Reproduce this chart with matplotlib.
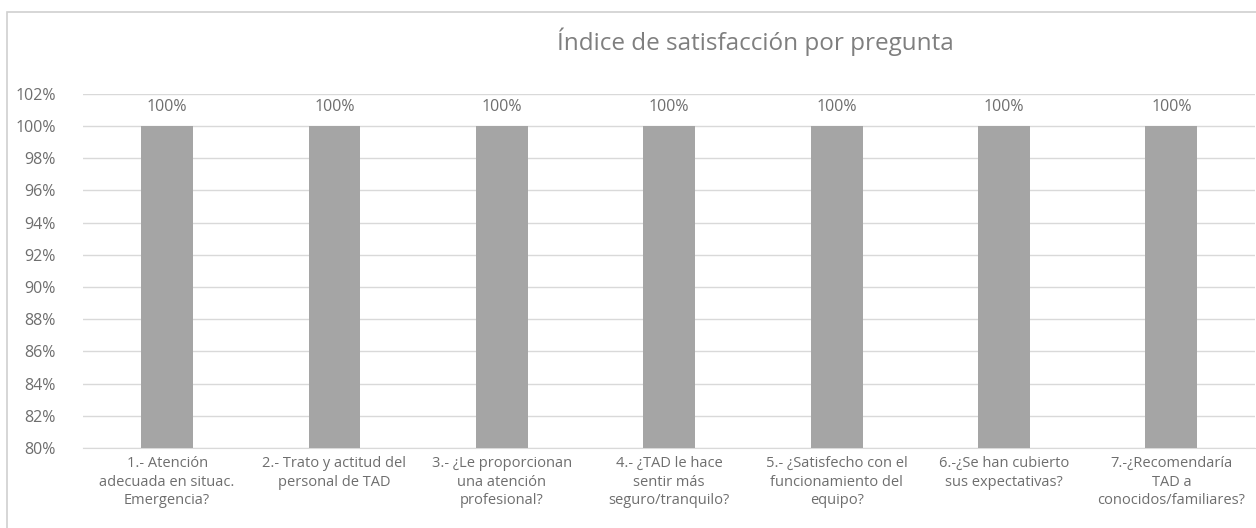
import matplotlib.pyplot as plt
import numpy as np
from matplotlib.patches import Rectangle
from matplotlib.ticker import FuncFormatter, MultipleLocator

plt.rcParams["font.family"] = ["Open Sans", "DejaVu Sans"]

# Datos
categories = [
    "1.- Atención\nadecuada en situac.\nEmergencia?",
    "2.- Trato y actitud del\npersonal de TAD",
    "3.- ¿Le proporcionan\nuna atención\nprofesional?",
    "4.- ¿TAD le hace\nsentir más\nseguro/tranquilo?",
    "5.- ¿Satisfecho con el\nfuncionamiento del\nequipo?",
    "6.-¿Se han cubierto\nsus expectativas?",
    "7.-¿Recomendaría\nTAD a\nconocidos/familiares?",
]
values = [100, 100, 100, 100, 100, 100, 100]
title = "Índice de satisfacción por pregunta"

text_color = "#6E6E6E"
bar_color = "#A5A5A5"
grid_color = "#D9D9D9"

fig = plt.figure(figsize=(12.56, 5.28), dpi=100)
fig.patch.set_facecolor("white")

# marco del gráfico (recortado a la derecha y abajo)
fig.patches.append(Rectangle((7 / 1256, -0.1), 1.2, 1 - 12 / 528 + 0.1,
                             transform=fig.transFigure, fill=False,
                             edgecolor="#D0D0D0", linewidth=1.2))

ax = fig.add_axes([83.4 / 1256, 1 - 448 / 528, (1255 - 83.4) / 1256, (448 - 93.8) / 528])

x = np.arange(len(categories))
bars = ax.bar(x, values, width=0.31, color=bar_color, zorder=3)

ax.set_xlim(-0.5, len(categories) - 0.5)
ax.set_ylim(80, 102)
ax.yaxis.set_major_locator(MultipleLocator(2))
ax.yaxis.set_major_formatter(FuncFormatter(lambda v, _: f"{v:.0f}%"))
ax.grid(axis="y", color=grid_color, linewidth=1, zorder=0)

for spine in ["top", "right", "left"]:
    ax.spines[spine].set_visible(False)
ax.spines["bottom"].set_color(grid_color)

ax.set_xticks(x)
ax.set_xticklabels(categories, fontsize=10.5, color=text_color, linespacing=1.3, va="top")
ax.tick_params(axis="x", length=0, pad=6)
ax.tick_params(axis="y", length=0, pad=20, labelsize=11.5, labelcolor=text_color)

# etiquetas de datos
for bar, val in zip(bars, values):
    ax.annotate(f"{val}%", (bar.get_x() + bar.get_width() / 2, val),
                xytext=(0, 8), textcoords="offset points",
                ha="center", va="bottom", fontsize=11.5, color=text_color)

fig.text(755 / 1256, 1 - 42 / 528, title, ha="center", va="center",
         fontsize=17.5, color="#7F7F7F")

fig.savefig("out.png", dpi=100)
